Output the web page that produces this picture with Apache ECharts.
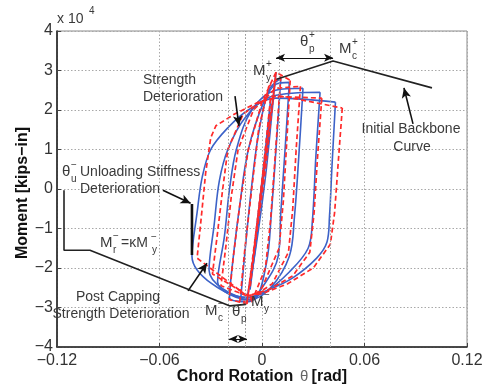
<!DOCTYPE html>
<html>
<head>
<meta charset="utf-8">
<script src="https://cdn.jsdelivr.net/npm/echarts@6/dist/echarts.min.js"></script>
<style>
  html, body { margin: 0; padding: 0; background: #fff; }
  #chart { width: 486px; height: 386px; }
</style>
</head>
<body>
<div id="chart"></div>
<script>
// Axis ranges (moment in units of 1e4 kips-in, rotation in rad)
const xRange = [-0.12, 0.12];
const yRange = [-4, 4];
const xStep = 0.06;
const yStep = 1;

// Reference rotations marked with dotted verticals
const refRotations = [-0.0193, -0.0129, -0.0088, 0.0082, 0.0416];

// Test hysteresis loops (blue, solid) – [rotation, moment]
const blueLoop0 = [[0.0050,2.25],[0.0020,0.8],[-0.0025,-1.0],[-0.0070,-2.55],[-0.0040,-1.3],[0.0005,0.4],[0.0050,2.25]];
const blueLoop1 = [[0.0082,2.96],[0.0060,2.0],[0.0020,0.3],[-0.0040,-1.6],[-0.0090,-2.85],[-0.0060,-2.0],[-0.0010,-0.3],[0.0040,1.4],[0.0082,2.96]];
const blueLoop6 = [[0.0110,2.80],[0.0085,1.2],[0.0055,-0.6],[0.0025,-1.9],[-0.0050,-2.8],[-0.0125,-2.8],[-0.0100,-1.6],[-0.0065,-0.1],[-0.0020,1.4],[0.0040,2.5],[0.0110,2.80]];
const blueLoop2 = [[0.0160,2.70],[0.0135,1.0],[0.0110,-0.6],[0.0095,-1.7],[0.0000,-2.5],[-0.0080,-2.85],[-0.0190,-2.75],[-0.0165,-1.6],[-0.0130,-0.4],[-0.0080,1.0],[0.0010,2.2],[0.0080,2.65],[0.0160,2.70]];
const blueLoop3 = [[0.0240,2.55],[0.0215,0.8],[0.0190,-0.7],[0.0160,-1.7],[0.0050,-2.5],[-0.0070,-2.8],[-0.0260,-2.35],[-0.0220,-1.2],[-0.0190,0.0],[-0.0150,1.0],[-0.0060,2.0],[0.0080,2.5],[0.0240,2.55]];
const blueLoop4 = [[0.0340,2.45],[0.0315,0.8],[0.0295,-0.8],[0.0270,-1.5],[0.0160,-2.1],[0.0020,-2.6],[-0.0090,-2.75],[-0.0310,-2.05],[-0.0280,-0.9],[-0.0250,0.2],[-0.0200,1.0],[-0.0100,1.8],[0.0060,2.35],[0.0340,2.45]];
const blueLoop5 = [[0.0430,2.20],[0.0410,0.6],[0.0395,-0.7],[0.0380,-1.35],[0.0320,-1.75],[0.0180,-2.25],[0.0040,-2.55],[-0.0090,-2.75],[-0.0410,-1.70],[-0.0380,-0.6],[-0.0350,0.3],[-0.0300,1.0],[-0.0200,1.55],[-0.0080,2.0],[0.0080,2.3],[0.0430,2.20]];

// Model hysteresis loops (red, dashed) – [rotation, moment]
const redLoop0 = [[0.0050,2.30],[0.0010,0.6],[-0.0040,-1.3],[-0.0070,-2.5],[-0.0030,-1.0],[0.0020,0.8],[0.0050,2.30]];
const redLoop1 = [[0.0082,2.96],[0.0030,1.2],[-0.0030,-0.9],[-0.0088,-2.88],[-0.0040,-1.4],[0.0020,0.5],[0.0082,2.96]];
const redLoop6 = [[0.0110,2.85],[0.0080,1.0],[0.0050,-0.8],[0.0020,-2.0],[-0.0060,-2.85],[-0.0130,-2.85],[-0.0100,-1.5],[-0.0060,0.0],[-0.0020,1.5],[0.0040,2.6],[0.0110,2.85]];
const redLoop2 = [[0.0165,2.75],[0.0145,1.2],[0.0125,-0.3],[0.0100,-1.5],[0.0000,-2.5],[-0.0090,-2.9],[-0.0193,-2.8],[-0.0170,-1.8],[-0.0130,-0.4],[-0.0080,1.0],[0.0000,2.2],[0.0082,2.96],[0.0165,2.75]];
const redLoop3 = [[0.0225,2.60],[0.0200,1.0],[0.0180,-0.5],[0.0155,-1.6],[0.0060,-2.4],[-0.0060,-2.75],[-0.0240,-2.45],[-0.0210,-1.4],[-0.0180,-0.2],[-0.0140,1.0],[-0.0050,2.0],[0.0080,2.55],[0.0225,2.60]];
const redLoop4 = [[0.0350,2.30],[0.0325,0.8],[0.0305,-0.6],[0.0280,-1.6],[0.0180,-2.2],[0.0040,-2.55],[-0.0080,-2.7],[-0.0290,-2.15],[-0.0260,-1.1],[-0.0230,0.0],[-0.0200,1.0],[-0.0110,1.9],[0.0040,2.35],[0.0350,2.30]];
const redLoop5 = [[0.0470,2.05],[0.0445,0.6],[0.0425,-0.6],[0.0400,-1.4],[0.0300,-2.0],[0.0150,-2.4],[0.0000,-2.65],[-0.0090,-2.7],[-0.0380,-1.75],[-0.0355,-0.7],[-0.0330,0.4],[-0.0300,1.3],[-0.0270,1.6],[-0.0160,1.9],[-0.0020,2.2],[0.0120,2.35],[0.0470,2.05]];

// Initial backbone curve
const backbonePos = [[0.0085,2.78],[0.0416,3.24],[0.0995,2.56]];
const backboneNeg = [[-0.0095,-2.92],[-0.0187,-2.96],[-0.1007,-1.55],[-0.1159,-1.55],[-0.1159,-0.03]];
// Unloading stiffness branch (heavy segment)
const unloadBranch = [[-0.0410,-0.38],[-0.0410,-1.67]];

// Annotation arrows: [from, to]
const singleArrows = [
  [[-0.0158, 2.35], [-0.0135, 1.60]],
  [[-0.0580, -0.03], [-0.0418, -0.36]],
  [[-0.0433, -2.58], [-0.0322, -1.88]],
  [[0.0884, 1.65], [0.0831, 2.56]]
];
const doubleArrows = [
  [[0.0082, 3.32], [0.0416, 3.32]],
  [[-0.0193, -3.80], [-0.0088, -3.80]]
];

const blueLoops = [blueLoop0, blueLoop1, blueLoop6, blueLoop2, blueLoop3, blueLoop4, blueLoop5];
const redLoops = [redLoop0, redLoop1, redLoop6, redLoop2, redLoop3, redLoop4, redLoop5];

const FONT = '"Liberation Sans", Arial, Helvetica, sans-serif';
const TXT = '#3a3a3a';
const minus = s => String(s).replace(/-/g, '\u2212');

const chart = echarts.init(document.getElementById('chart'), null, { renderer: 'canvas' });

const series = [];
for (let i = 0; i < blueLoops.length; i++) {
  series.push({
    type: 'line', data: blueLoops[i], smooth: 0.35, showSymbol: false, silent: true,
    lineStyle: { color: '#3c62c8', width: 1.6 }, z: 3
  });
  series.push({
    type: 'line', data: redLoops[i], smooth: false, showSymbol: false, silent: true,
    lineStyle: { color: '#ff2a2a', width: 1.7, type: [5, 3] }, z: 4
  });
}
[backbonePos, backboneNeg].forEach(d => series.push({
  type: 'line', data: d, showSymbol: false, silent: true,
  lineStyle: { color: '#222', width: 1.6 }, z: 5
}));
series.push({
  type: 'line', data: unloadBranch, showSymbol: false, silent: true,
  lineStyle: { color: '#111', width: 2.6 }, z: 6
});
// dotted reference rotations + annotation arrows
series.push({
  type: 'line', data: [], silent: true, z: 2,
  markLine: {
    silent: true, symbol: 'none', label: { show: false }, animation: false,
    lineStyle: { color: '#9a9a9a', type: [1.5, 2], width: 1 },
    data: refRotations.map(v => ({ xAxis: v }))
  }
});
series.push({
  type: 'line', data: [], silent: true, z: 7,
  markLine: {
    silent: true, symbol: ['none', 'arrow'], symbolSize: [7, 10], label: { show: false }, animation: false,
    lineStyle: { color: '#111', type: 'solid', width: 1.6 },
    data: singleArrows.map(a => [{ coord: a[0] }, { coord: a[1] }])
  }
});
series.push({
  type: 'line', data: [], silent: true, z: 7,
  markLine: {
    silent: true, symbol: ['arrow', 'arrow'], symbolSize: [6, 9], label: { show: false }, animation: false,
    lineStyle: { color: '#111', type: 'solid', width: 1.1 },
    data: doubleArrows.map(a => [{ coord: a[0] }, { coord: a[1] }])
  }
});

// text helpers
function t(x, y, text, size, align, extra) {
  return Object.assign({
    type: 'text', x: x, y: y, silent: true, z: 20,
    style: { text: text, font: size + 'px ' + FONT, fill: TXT, textAlign: align || 'left', textVerticalAlign: 'middle' }
  }, extra || {});
}
// symbol with superscript and subscript
function sym(x, y, base, sup, sub, w) {
  const out = [t(x, y, base, 15, 'left')];
  if (sup) out.push(t(x + w, y - 7, sup, 10, 'left'));
  if (sub) out.push(t(x + w, y + 7, sub, 10, 'left'));
  return out;
}

const graphics = [].concat(
  [t(57, 19, 'x 10', 14, 'left'), t(89, 11, '4', 10, 'left')],
  [t(143, 80, 'Strength', 14), t(143, 97, 'Deterioration', 14)],
  sym(62, 172, '\u03b8', '\u2212', 'u', 9),
  [t(80, 172, 'Unloading Stiffness', 14), t(80, 189, 'Deterioration', 14)],
  sym(100, 243, 'M', '\u2212', 'r', 13),
  [t(121, 243, '=\u03baM', 14)],
  [t(151, 237, '\u2212', 10), t(152, 250, 'y', 10)],
  [t(118, 297, 'Post Capping', 14, 'center'), t(121, 314, 'Strength Deterioration', 14, 'center')],
  sym(205, 311, 'M', '\u2212', 'c', 13),
  sym(232, 312, '\u03b8', '\u2212', 'p', 9),
  sym(251, 302, 'M', '\u2212', 'y', 13),
  sym(253, 71, 'M', '+', 'y', 13),
  sym(300, 42, '\u03b8', '+', 'p', 9),
  sym(339, 49, 'M', '+', 'c', 13),
  [t(411, 129, 'Initial Backbone', 14, 'center'), t(412, 147, 'Curve', 14, 'center')],
  [{
    type: 'text', x: 262, y: 377, silent: true, z: 20,
    style: {
      text: '{b|Chord Rotation}  {n|\u03b8} {b|[rad]}',
      textAlign: 'center', textVerticalAlign: 'middle',
      rich: {
        b: { font: 'bold 16px ' + FONT, fill: '#111' },
        n: { font: '15px ' + FONT, fill: '#666' }
      }
    }
  }],
  [{
    type: 'text', x: 23, y: 193, rotation: Math.PI / 2, silent: true, z: 20,
    style: { text: 'Moment [kips\u2212in]', font: 'bold 16px ' + FONT, fill: '#111', textAlign: 'center', textVerticalAlign: 'middle' }
  }]
);

chart.setOption({
  animation: false,
  backgroundColor: '#fff',
  grid: { left: 57, top: 31, right: 19, bottom: 39, show: true, borderColor: '#8a8a8a', borderWidth: 1 },
  xAxis: {
    type: 'value', min: xRange[0], max: xRange[1], interval: xStep,
    axisLine: { show: true, onZero: false, lineStyle: { color: '#222', width: 1.6 } },
    axisTick: { show: true, inside: true, length: 4, lineStyle: { color: '#444' } },
    splitLine: { show: true, lineStyle: { color: '#a8a8a8', type: [1.5, 2] } },
    axisLabel: {
      fontSize: 16, fontFamily: FONT, color: '#333', margin: 6,
      formatter: v => Math.abs(v) < 1e-9 ? '0' : minus(v.toFixed(2))
    }
  },
  yAxis: {
    type: 'value', min: yRange[0], max: yRange[1], interval: yStep,
    axisLine: { show: true, onZero: false, lineStyle: { color: '#222', width: 1.6 } },
    axisTick: { show: true, inside: true, length: 4, lineStyle: { color: '#444' } },
    splitLine: { show: true, lineStyle: { color: '#a8a8a8', type: [1.5, 2] } },
    axisLabel: {
      fontSize: 16, fontFamily: FONT, color: '#333', margin: 4,
      formatter: v => minus(Math.round(v))
    }
  },
  series: series,
  graphic: graphics
});
</script>
</body>
</html>
